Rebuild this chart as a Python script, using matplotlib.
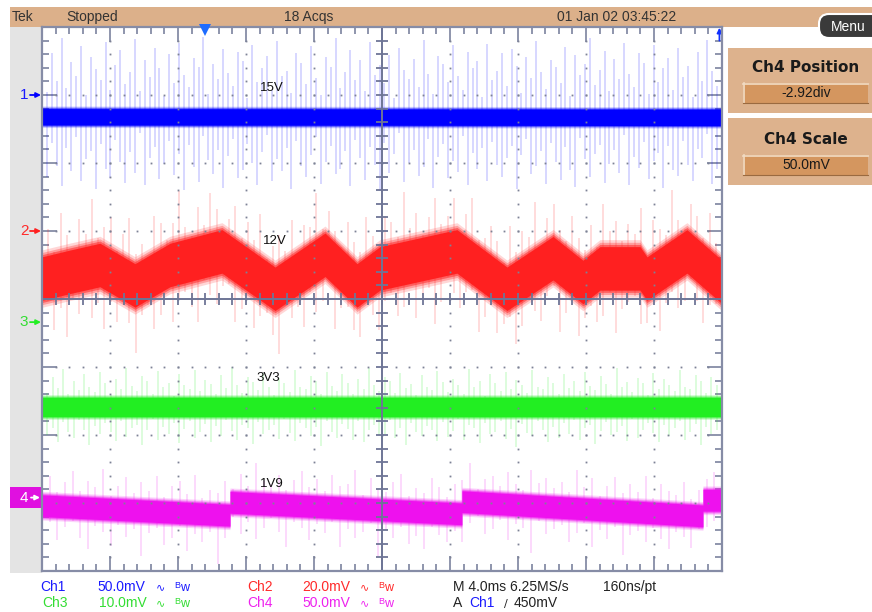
import matplotlib
matplotlib.use("Agg")
import matplotlib.pyplot as plt
import numpy as np
from matplotlib.patches import Rectangle, FancyBboxPatch
import matplotlib.transforms as mtransforms

plt.rcParams['font.family'] = ['Liberation Sans', 'DejaVu Sans']

# ---------------- data (time in ms, voltages in mV) ----------------
ch_scale = [50.0, 20.0, 10.0, 50.0]        # mV / div
ch_offset = [3.0, 1.0, -0.34, -2.92]       # div
ch_names = ["15V", "12V", "3V3", "1V9"]

blue_t = [0.0, 40.0]
blue_mv = [-16.0, -16.5]
blue_half = 6.0

red_t = [0.0, 1.65, 3.41, 5.47, 7.53, 10.59, 13.71, 16.65, 18.53, 19.88,
         24.41, 27.35, 30.06, 31.82, 32.82, 35.18, 35.59, 37.94, 40.0]
red_mv = [-14, -12, -10, -16, -10, -6, -17, -7, -16, -11,
          -6, -17, -8, -15, -11, -11, -14, -6, -15]
red_half = 6.4

green_t = [0.0, 40.0]
green_mv = [-12.5, -12.5]
green_half = 1.4

mag_t = [0.0, 11.06, 11.06, 24.7, 24.7, 38.88, 38.88, 40.0]
mag_mv = [-6.0, -13.0, -3.5, -12.0, -3.0, -13.5, -2.0, -2.0]
mag_half = 8.0

blue_up = [34, 18, 47, 26, 58, 21, 40, 30, 52, 16, 44, 35, 27, 55, 20, 38, 49, 24, 33, 57,
           19, 42, 29, 51, 36, 15, 46, 25, 54, 31, 22, 43, 37, 59, 17, 39, 28, 50, 32, 23,
           48, 41, 14, 53, 26, 36, 45, 20, 56, 30, 34, 18, 47, 40, 24, 52, 29, 16, 44, 37,
           58, 21, 33, 49, 27, 42, 19, 55, 31, 38, 25, 46, 14, 51, 35, 28, 43, 22, 57, 32,
           17, 45, 39, 26, 53, 30, 20, 48, 36, 41, 15, 54, 27, 34, 47, 23, 50, 38, 18, 44,
           29, 56, 33, 21, 42, 37, 25, 52, 16, 46, 31, 39, 58, 24, 35, 49, 19, 43, 28, 55,
           32, 22, 47, 40, 17, 53, 26, 36, 44, 20, 51, 30, 38, 15, 48, 27, 57, 34, 23, 45]
blue_dn = [28, 44, 19, 36, 51, 23, 40, 15, 47, 31, 25, 53, 20, 38, 45, 17, 33, 49, 26, 41,
           12, 50, 30, 22, 46, 35, 18, 43, 27, 54, 21, 37, 48, 14, 32, 42, 24, 52, 29, 16,
           45, 39, 20, 34, 50, 26, 13, 47, 31, 40, 23, 53, 18, 36, 44, 28, 15, 49, 33, 21,
           42, 38, 25, 51, 17, 30, 46, 22, 35, 54, 19, 41, 27, 12, 48, 34, 24, 43, 37, 16,
           52, 29, 20, 45, 32, 40, 14, 50, 26, 38, 23, 47, 18, 35, 44, 30, 21, 53, 28, 16,
           42, 36, 25, 49, 19, 33, 46, 22, 39, 51, 15, 31, 44, 27, 20, 48, 34, 24, 41, 13,
           50, 29, 37, 18, 45, 32, 26, 52, 21, 39, 43, 17, 35, 47, 23, 30, 12, 49, 38, 25]
red_up = [9, 14, 7, 18, 11, 6, 15, 10, 20, 8, 12, 16, 7, 13, 19, 9, 11, 6, 17, 14,
          8, 12, 21, 10, 7, 15, 9, 18, 13, 6, 11, 16, 8, 14, 10, 19, 7, 12, 15, 9,
          17, 6, 13, 11, 20, 8, 14, 10, 7, 16, 12, 9, 18, 11, 6, 15, 13, 8, 21, 10,
          14, 7, 12, 17, 9, 11, 16, 6, 13, 19, 8, 10, 15, 12, 7, 18, 9, 14, 11, 20,
          6, 13, 16, 10, 8, 17, 12, 9, 15, 7, 19, 11, 14, 8, 13, 10, 18, 6, 16, 12,
          9, 21, 11, 7, 15, 13, 8, 17, 10, 14]
red_dn = [12, 7, 16, 10, 19, 8, 13, 6, 15, 11, 18, 9, 14, 7, 12, 20, 10, 8, 16, 13,
          6, 17, 11, 9, 14, 19, 7, 12, 15, 10, 8, 18, 13, 6, 16, 11, 9, 14, 20, 7,
          12, 10, 17, 8, 15, 13, 6, 19, 11, 9, 14, 16, 7, 12, 18, 10, 8, 15, 13, 6,
          17, 11, 9, 20, 14, 7, 12, 16, 10, 8, 19, 13, 6, 15, 11, 9, 18, 14, 7, 12,
          16, 10, 8, 20, 13, 6, 17, 11, 9, 15, 14, 7, 19, 12, 10, 8, 16, 13, 6, 18,
          11, 9, 15, 14, 7, 12, 17, 10, 8, 13]
green_up = [3.2, 2.1, 4.5, 2.8, 5.6, 1.9, 3.8, 2.5, 4.9, 3.0, 2.2, 5.1, 3.5, 1.8, 4.2, 2.7, 5.8, 3.1, 2.4, 4.6,
            3.9, 2.0, 5.3, 2.9, 3.6, 1.7, 4.8, 3.3, 2.6, 5.5, 2.3, 4.0, 3.4, 1.9, 4.7, 2.8, 5.9, 3.2, 2.1, 4.4,
            3.7, 2.5, 5.0, 2.9, 1.8, 4.3, 3.5, 2.2, 5.4, 3.0, 2.6, 4.6, 3.8, 2.0, 5.2, 3.1, 2.4, 4.9, 3.6, 1.9,
            4.1, 2.7, 5.7, 3.3, 2.3, 4.5, 3.9, 2.1, 5.0, 2.8, 3.4, 1.8, 4.7, 3.0, 2.5, 5.3, 3.7, 2.2, 4.2, 3.2,
            2.0, 5.6, 2.9, 3.8, 1.7, 4.8, 3.5, 2.4, 5.1, 2.6, 4.0, 3.3, 2.1, 5.5, 3.0, 2.7, 4.4, 3.6, 1.9, 4.9,
            2.8, 3.9, 2.3, 5.2, 3.1, 2.5, 4.6, 3.4, 2.0, 5.8, 2.9, 3.7, 2.2, 4.3, 3.5, 1.8, 5.0, 2.6, 4.1, 3.2,
            2.4, 5.4, 3.0, 2.7, 4.7, 3.8, 2.1, 4.5, 3.3, 2.5]
green_dn = [2.6, 4.1, 3.0, 5.2, 2.2, 3.7, 4.6, 1.9, 3.3, 5.5, 2.8, 4.0, 2.4, 3.6, 5.0, 2.1, 4.4, 3.1, 2.7, 5.6,
            3.4, 1.8, 4.8, 2.9, 3.9, 2.3, 5.3, 3.2, 2.0, 4.5, 3.7, 2.5, 5.1, 2.8, 4.2, 1.9, 3.5, 4.9, 2.6, 3.0,
            5.4, 2.2, 4.0, 3.3, 2.7, 4.7, 1.8, 3.8, 5.0, 2.4, 3.1, 4.3, 2.9, 5.7, 2.1, 3.6, 4.5, 2.5, 3.2, 4.9,
            2.0, 5.2, 3.4, 2.7, 4.1, 3.9, 1.9, 4.6, 3.0, 5.5, 2.3, 3.7, 4.2, 2.8, 3.3, 5.0, 2.2, 4.4, 3.5, 1.8,
            4.8, 2.6, 3.1, 5.3, 2.4, 4.0, 3.6, 2.0, 4.7, 3.2, 5.8, 2.5, 3.8, 4.3, 2.1, 3.4, 5.1, 2.9, 4.5, 2.3,
            3.9, 1.9, 4.9, 3.0, 2.6, 5.4, 3.5, 2.2, 4.1, 3.7, 2.8, 5.0, 1.8, 4.6, 3.3, 2.4, 3.8, 5.2, 2.7, 4.2,
            3.1, 2.0, 4.8, 3.6, 2.5, 5.5, 2.9, 4.0, 3.4, 2.2]
mag_up = [14, 22, 11, 18, 27, 12, 20, 16, 29, 10, 17, 24, 13, 21, 15, 26, 11, 19, 23, 14,
          28, 12, 18, 16, 25, 10, 21, 13, 30, 17, 15, 22, 11, 19, 26, 14, 20, 12, 24, 16,
          18, 28, 10, 23, 15, 13, 21, 27, 11, 17, 14, 25, 19, 12, 22, 16, 29, 10, 18, 20,
          13, 24, 15, 11, 26, 17, 21, 14, 19, 12, 28, 16, 23, 10, 18, 25, 13, 20, 15, 27,
          11, 22, 17, 14, 24, 12, 19, 16, 21, 13]
mag_dn = [18, 12, 25, 15, 10, 22, 30, 13, 17, 27, 11, 20, 14, 33, 16, 12, 24, 19, 10, 28,
          15, 21, 13, 36, 17, 11, 23, 14, 26, 18, 10, 20, 31, 12, 16, 25, 13, 19, 11, 29,
          15, 22, 17, 10, 34, 14, 20, 12, 24, 18, 27, 11, 16, 21, 13, 30, 15, 10, 23, 19,
          12, 26, 14, 17, 35, 11, 20, 16, 13, 25, 18, 10, 28, 15, 21, 12, 32, 17, 14, 22,
          11, 19, 26, 13, 16, 24, 10, 20, 15, 18]

trig_t = 9.6
label_t = [13.5, 13.7, 13.3, 13.5]
label_div = [3.10, 0.85, -1.16, -2.72]

ch_colors = ["#0000ff", "#ff2020", "#22ee22", "#ee11ee"]
txt_colors = ["#1a1aff", "#ff2a2a", "#33dd33", "#ee22ee"]

# ---------------- figure ----------------
W, H = 872, 612
fig = plt.figure(figsize=(W / 100, H / 100), dpi=100)
fig.patch.set_facecolor("white")

bg = fig.add_axes([0, 0, 1, 1], zorder=-5)
bg.set_xlim(0, W)
bg.set_ylim(H, 0)
bg.axis("off")

def prect(x0, y0, x1, y1, color, **kw):
    bg.add_patch(Rectangle((x0, y0), x1 - x0, y1 - y0, facecolor=color,
                           edgecolor=kw.pop("ec", "none"), **kw))

TAN = "#dcb08a"
prect(10, 7, 872, 27, TAN)
prect(10, 27, 42, 573, "#e4e4e4")
# right panels
prect(728, 48, 872, 113, "#ddb28d")
prect(728, 118, 872, 185, "#ddb28d")
for (y0, y1) in [(83, 103), (155, 175)]:
    prect(743, y0, 868, y1, "#d4965f")
    bg.plot([743, 868], [y0 + 0.5, y0 + 0.5], color="#f2dcc4", lw=1.2)
    bg.plot([743.5, 743.5], [y0, y1], color="#f2dcc4", lw=1.2)
    bg.plot([743, 868], [y1, y1], color="#9a6a40", lw=0.8)
bg.add_patch(FancyBboxPatch((819, 14), 70, 24, boxstyle="round,pad=0,rounding_size=10",
                            fc="#3a3a3a", ec="white", lw=1.5, clip_on=False))
bg.text(848, 27, "Menu", color="white", fontsize=10, ha="center", va="center")
bg.text(806, 68, "Ch4 Position", fontsize=11, fontweight="bold", family="DejaVu Sans",
        ha="center", va="center", color="#1a1a1a")
bg.text(806, 93, "-2.92div", fontsize=10, ha="center", va="center", color="#1a1a1a")
bg.text(806, 139, "Ch4 Scale", fontsize=11, fontweight="bold", family="DejaVu Sans",
        ha="center", va="center", color="#1a1a1a")
bg.text(806, 165, "50.0mV", fontsize=10, ha="center", va="center", color="#1a1a1a")

# top bar text
TXT = "#333333"
bg.text(12, 17, "Tek", fontsize=10, va="center", color=TXT)
bg.text(66, 17, "Stopped", fontsize=10, va="center", color=TXT)
bg.text(284, 17, "18 Acqs", fontsize=10, va="center", color=TXT)
bg.text(557, 17, "01 Jan 02 03:45:22", fontsize=10, va="center", color=TXT)

# bottom status text
def bw(x, y, c):
    bg.text(x, y, "\u223f", fontsize=8, va="center", color=c, family="DejaVu Sans")
    bg.text(x + 18, y - 2, "B", fontsize=6.5, va="center", color=c)
    bg.text(x + 24, y + 1, "w", fontsize=9, va="center", color=c)

r1, r2 = 587, 603
bg.text(40, r1, "Ch1", fontsize=10, va="center", color=txt_colors[0])
bg.text(97, r1, f"{ch_scale[0]:.1f}mV", fontsize=10, va="center", color=txt_colors[0])
bw(156, r1, txt_colors[0])
bg.text(247, r1, "Ch2", fontsize=10, va="center", color=txt_colors[1])
bg.text(302, r1, f"{ch_scale[1]:.1f}mV", fontsize=10, va="center", color=txt_colors[1])
bw(360, r1, txt_colors[1])
bg.text(42, r2, "Ch3", fontsize=10, va="center", color=txt_colors[2])
bg.text(99, r2, f"{ch_scale[2]:.1f}mV", fontsize=10, va="center", color=txt_colors[2])
bw(156, r2, txt_colors[2])
bg.text(247, r2, "Ch4", fontsize=10, va="center", color=txt_colors[3])
bg.text(302, r2, f"{ch_scale[3]:.1f}mV", fontsize=10, va="center", color=txt_colors[3])
bw(360, r2, txt_colors[3])
bg.text(453, r1, "M 4.0ms 6.25MS/s", fontsize=10, va="center", color="#222222")
bg.text(603, r1, "160ns/pt", fontsize=10, va="center", color="#222222")
bg.text(453, r2, "A", fontsize=10, va="center", color="#222222")
bg.text(469, r2, "Ch1", fontsize=10, va="center", color=txt_colors[0])
bg.text(504, r2 + 1, "\u2215", fontsize=8, va="center", color="#222222", family="DejaVu Sans")
bg.text(514, r2, "450mV", fontsize=10, va="center", color="#222222")

# ---------------- graticule axes ----------------
ax = fig.add_axes([42 / W, 1 - 571 / H, 680 / W, 544 / H])
ax.set_xlim(0, 40)
ax.set_ylim(-4, 4)
ax.set_facecolor("white")
GR = "#868ca6"
for s in ax.spines.values():
    s.set_color(GR)
    s.set_linewidth(1.6)
    s.set_zorder(6)
ax.set_xticks(np.arange(0, 40.01, 4))
ax.set_xticks(np.arange(0, 40.01, 0.8), minor=True)
ax.set_yticks(np.arange(-4, 4.01, 1))
ax.set_yticks(np.arange(-4, 4.01, 0.2), minor=True)
ax.tick_params(which="both", direction="in", top=True, right=True, labelleft=False,
               labelbottom=False, color=GR, width=1.3, zorder=6)
ax.tick_params(which="major", length=11)
ax.tick_params(which="minor", length=5)

# dotted major grid
for yv in [-3, -2, -1, 1, 2, 3]:
    xs = np.arange(0.8, 39.9, 0.8)
    ax.plot(xs, np.full(len(xs), yv), ls="none", marker="s", ms=1.3, color="#7d8296", mew=0, zorder=5)
for xv in [4, 8, 12, 16, 24, 28, 32, 36]:
    ys = np.arange(-3.8, 3.9, 0.2)
    ax.plot(np.full(len(ys), xv), ys, ls="none", marker="s", ms=1.3, color="#7d8296", mew=0, zorder=5)
# center crosshair
ax.axhline(0, color="#6e7596", lw=1.4, zorder=5)
ax.axvline(20, color="#6e7596", lw=1.4, zorder=5)
cx = np.arange(0, 40.01, 0.8)
ax.plot(cx, np.zeros(len(cx)), ls="none", marker="|", ms=8, mew=1.3, color="#6e7596", zorder=5)
cy = np.arange(-4, 4.01, 0.2)
ax.plot(np.full(len(cy), 20.0), cy, ls="none", marker="_", ms=8, mew=1.3, color="#6e7596", zorder=5)

# ---------------- traces ----------------
def draw(t, mv, half, up, dn, k):
    t = np.asarray(t, float)
    base = ch_offset[k] + np.asarray(mv, float) / ch_scale[k]
    h = half / ch_scale[k]
    c = ch_colors[k]
    tu = np.linspace(0, 40, len(up))
    bu = np.interp(tu, t, base)
    ax.vlines(tu, bu, bu + np.asarray(up, float) / ch_scale[k], colors=c, alpha=0.2, lw=1.1, zorder=2)
    td = np.linspace(0, 40, len(dn))
    bd = np.interp(td, t, base)
    ax.vlines(td, bd - np.asarray(dn, float) / ch_scale[k], bd, colors=c, alpha=0.2, lw=1.1, zorder=2)
    for f, a in [(1.32, 0.18), (1.2, 0.3), (1.1, 0.5)]:
        ax.fill_between(t, base - h * f, base + h * f, color=c, alpha=a, lw=0, zorder=3)
    ax.fill_between(t, base - h, base + h, color=c, lw=0, zorder=3)

draw(blue_t, blue_mv, blue_half, blue_up, blue_dn, 0)
draw(red_t, red_mv, red_half, red_up, red_dn, 1)
draw(green_t, green_mv, green_half, green_up, green_dn, 2)
draw(mag_t, mag_mv, mag_half, mag_up, mag_dn, 3)

for k in range(4):
    ax.text(label_t[k], label_div[k], ch_names[k], fontsize=9.5, ha="center", va="center",
            color="#111111", zorder=7)

# channel ground markers on the left
trans = mtransforms.blended_transform_factory(fig.transFigure, ax.transData)
for k in range(3):
    ax.text(24 / W, ch_offset[k], str(k + 1), transform=trans, fontsize=11, ha="center",
            va="center", color=txt_colors[k], clip_on=False)
    ax.annotate("", xy=(41 / W, ch_offset[k]), xytext=(30 / W, ch_offset[k]), xycoords=trans,
                textcoords=trans, annotation_clip=False,
                arrowprops=dict(arrowstyle="-|>", color=ch_colors[k], lw=1.3, mutation_scale=7,
                                shrinkA=0, shrinkB=0))
ax.add_patch(Rectangle((10 / W, ch_offset[3] - 0.15), 32 / W, 0.3, transform=trans,
                       facecolor="#e010e0", edgecolor="none", clip_on=False))
ax.text(24 / W, ch_offset[3], "4", transform=trans, fontsize=11, ha="center", va="center",
        color="white", clip_on=False)
ax.annotate("", xy=(40 / W, ch_offset[3]), xytext=(31 / W, ch_offset[3]), xycoords=trans,
            textcoords=trans, annotation_clip=False,
            arrowprops=dict(arrowstyle="-|>", color="white", lw=1.3, mutation_scale=7,
                            shrinkA=0, shrinkB=0))

# trigger markers
ax.plot([trig_t], [4 - 0.05], marker="v", ms=9, color="#1e6cff", mew=0, clip_on=False, zorder=8)
ax.annotate("", xy=(39.85, 3.99), xytext=(39.85, 3.8), annotation_clip=False,
            arrowprops=dict(arrowstyle="-|>", color="#1030ff", lw=1.3, mutation_scale=7,
                            shrinkA=0, shrinkB=0))

fig.savefig("out.png", dpi=100)
